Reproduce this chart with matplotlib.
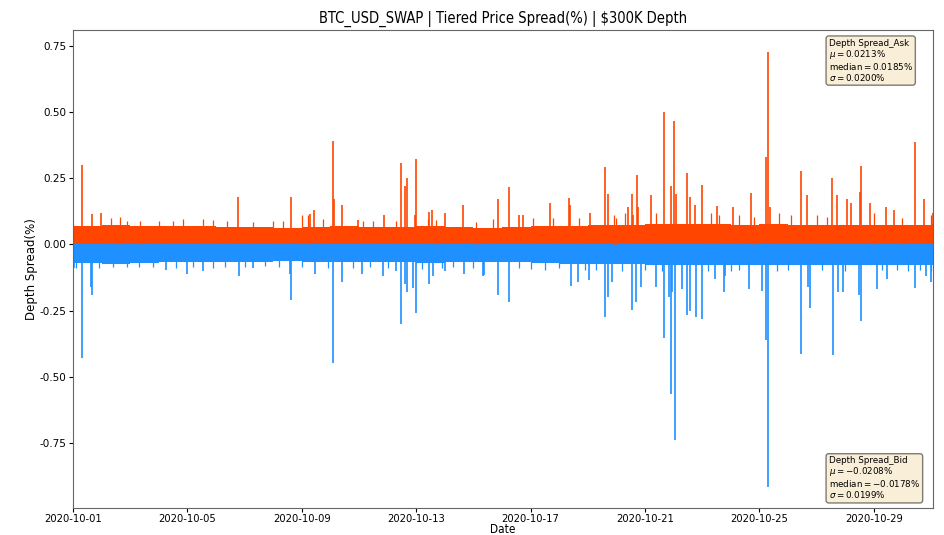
import numpy as np
import pandas as pd
import matplotlib
matplotlib.use('Agg')
from matplotlib import pyplot as plt
import matplotlib.dates as mdates

START = '2020-10-01'
END_DAY = 30.07

# typical level of the dense band, one value per day (day 0 = 2020-10-01)
ask_band = [0.070, 0.072, 0.070, 0.068, 0.068, 0.066, 0.065, 0.064, 0.066, 0.068, 0.067,
            0.066, 0.068, 0.066, 0.062, 0.066, 0.068, 0.070, 0.072, 0.074, 0.076, 0.078,
            0.076, 0.074, 0.076, 0.074, 0.075, 0.074, 0.074, 0.075, 0.076]
bid_band = [-0.070, -0.072, -0.070, -0.068, -0.068, -0.066, -0.066, -0.064, -0.066, -0.068, -0.068,
            -0.068, -0.070, -0.068, -0.066, -0.068, -0.070, -0.072, -0.074, -0.074, -0.076, -0.078,
            -0.078, -0.076, -0.076, -0.076, -0.076, -0.076, -0.076, -0.077, -0.078]

# small bumps on top of the band
ask_bump_day = [0.0, 1.32, 1.64, 1.9, 2.34, 3.0, 3.5, 3.86, 4.56, 4.9, 5.37, 6.3, 7.0, 7.35,
                8.0, 8.23, 8.75, 10.15, 10.5, 11.3, 12.4, 12.7, 14.1, 14.7, 16.1, 16.8, 17.7,
                18.9, 19.3, 19.0, 20.4, 22.3, 22.6, 23.3, 23.8, 24.7, 25.1, 26.0, 26.35, 28.0,
                29.0, 30.0]
ask_bump_val = [0.082, 0.100, 0.105, 0.090, 0.090, 0.090, 0.088, 0.095, 0.098, 0.092, 0.088,
                0.085, 0.090, 0.090, 0.110, 0.112, 0.095, 0.090, 0.090, 0.088, 0.095, 0.092,
                0.085, 0.095, 0.100, 0.100, 0.100, 0.110, 0.120, 0.100, 0.120, 0.120, 0.110,
                0.110, 0.105, 0.120, 0.110, 0.110, 0.105, 0.120, 0.100, 0.110]
bid_bump_day = [0.1, 0.9, 1.4, 1.9, 2.3, 2.8, 3.6, 4.2, 4.9, 5.3, 6.0, 6.7, 7.2, 8.0, 8.9,
                9.8, 10.4, 11.0, 12.2, 12.9, 13.3, 14.0, 15.6, 16.0, 16.5, 17.0, 17.9, 18.3,
                19.2, 20.0, 20.6, 22.2, 23.0, 23.3, 24.6, 25.0, 26.2, 27.0, 28.3, 28.8, 29.2,
                29.6, 30.0]
bid_bump_val = [-0.090, -0.088, -0.085, -0.086, -0.084, -0.085, -0.090, -0.086, -0.088, -0.084,
                -0.086, -0.083, -0.085, -0.086, -0.088, -0.090, -0.086, -0.088, -0.092, -0.090,
                -0.086, -0.088, -0.090, -0.092, -0.095, -0.090, -0.095, -0.098, -0.100, -0.096,
                -0.100, -0.102, -0.100, -0.098, -0.100, -0.096, -0.098, -0.100, -0.096, -0.098,
                -0.100, -0.098, -0.102]

# spikes
ask_spike_day = [0.30, 0.65, 0.98, 5.78, 7.61, 8.30, 8.44, 9.09, 9.12, 9.40, 9.97, 10.87, 11.47,
                 11.61, 11.67, 11.95, 12.0, 12.45, 12.57, 13.0, 13.62, 14.87, 15.24, 15.6, 15.74,
                 16.68, 17.34, 17.38, 18.08, 18.60, 18.72, 19.42, 19.53, 19.58, 19.72, 19.77,
                 20.2, 20.66, 20.91, 21.03, 21.1, 21.46, 21.57, 21.75, 21.98, 22.52, 23.08, 23.72,
                 24.22, 24.30, 24.38, 25.44, 25.67, 26.55, 26.73, 27.05, 27.2, 27.52, 27.55,
                 27.85, 28.43, 28.7, 29.44, 29.77, 30.06]
ask_spike_val = [0.300, 0.114, 0.120, 0.178, 0.178, 0.115, 0.130, 0.390, 0.170, 0.148, 0.094,
                 0.110, 0.308, 0.220, 0.251, 0.113, 0.324, 0.123, 0.132, 0.120, 0.150, 0.173,
                 0.217, 0.113, 0.110, 0.157, 0.176, 0.150, 0.120, 0.293, 0.192, 0.142, 0.191,
                 0.113, 0.261, 0.140, 0.186, 0.502, 0.220, 0.465, 0.190, 0.270, 0.180, 0.150,
                 0.226, 0.147, 0.140, 0.195, 0.329, 0.728, 0.140, 0.276, 0.185, 0.251, 0.186,
                 0.173, 0.157, 0.200, 0.298, 0.157, 0.140, 0.130, 0.386, 0.170, 0.120]
bid_spike_day = [0.05, 0.30, 0.62, 0.67, 3.27, 4.0, 4.55, 5.8, 6.3, 7.6, 7.61, 8.46, 9.08, 9.4,
                 10.09, 10.83, 11.31, 11.47, 11.6, 11.67, 11.9, 12.0, 12.45, 12.6, 13.0, 13.67,
                 14.34, 14.38, 14.87, 15.24, 17.40, 17.66, 18.05, 18.6, 18.69, 18.86, 19.53,
                 19.70, 19.87, 20.37, 20.66, 20.84, 20.9, 20.96, 21.04, 21.3, 21.46, 21.57, 21.80,
                 21.98, 22.45, 22.76, 22.8, 23.65, 24.08, 24.22, 24.31, 25.44, 25.70, 25.77,
                 26.56, 26.76, 26.93, 27.50, 27.55, 28.1, 28.47, 29.44, 29.83, 29.99]
bid_spike_val = [-0.090, -0.427, -0.160, -0.190, -0.095, -0.110, -0.100, -0.120, -0.090, -0.110,
                 -0.210, -0.110, -0.447, -0.140, -0.110, -0.120, -0.100, -0.300, -0.150, -0.180,
                 -0.165, -0.260, -0.150, -0.120, -0.100, -0.110, -0.120, -0.115, -0.190, -0.218,
                 -0.155, -0.140, -0.135, -0.273, -0.200, -0.140, -0.249, -0.218, -0.160, -0.160,
                 -0.352, -0.200, -0.563, -0.180, -0.738, -0.170, -0.267, -0.250, -0.273, -0.280,
                 -0.130, -0.180, -0.120, -0.170, -0.175, -0.362, -0.914, -0.412, -0.160, -0.239,
                 -0.417, -0.180, -0.180, -0.190, -0.290, -0.170, -0.130, -0.165, -0.120, -0.140]

ask_stats = (0.0213, 0.0185, 0.0200)
bid_stats = (-0.0208, -0.0178, 0.0199)

ASK_COLOR = 'orangered'
BID_COLOR = 'dodgerblue'


def to_dates(days):
    return pd.Timestamp(START) + pd.to_timedelta(np.asarray(days, dtype=float), unit='D')


fig = plt.figure(figsize=(9.45, 5.35), dpi=100)
ax = fig.add_axes([0.0772, 0.0505, 0.9101, 0.8935])

band_x = to_dates(list(range(len(ask_band))) + [END_DAY])
ax.fill_between(band_x, 0, ask_band + [ask_band[-1]], step='post', color=ASK_COLOR, lw=0)
ax.fill_between(band_x, 0, bid_band + [bid_band[-1]], step='post', color=BID_COLOR, lw=0)

ax.vlines(to_dates(ask_bump_day), 0, ask_bump_val, colors=ASK_COLOR, lw=0.9)
ax.vlines(to_dates(bid_bump_day), 0, bid_bump_val, colors=BID_COLOR, lw=0.9)
ax.vlines(to_dates(ask_spike_day), 0, ask_spike_val, colors=ASK_COLOR, lw=1.2)
ax.vlines(to_dates(bid_spike_day), 0, bid_spike_val, colors=BID_COLOR, lw=1.2)

ax.set_xlim(to_dates([0, END_DAY]))
ax.set_ylim(-0.995, 0.81)
ax.set_yticks([-0.75, -0.5, -0.25, 0.0, 0.25, 0.5, 0.75])
ax.yaxis.set_major_formatter(plt.FormatStrFormatter('%.2f'))
ax.tick_params(axis='y', labelsize=7.5, length=3, pad=2)
ax.tick_params(axis='x', labelsize=8, length=3, pad=1.5)
ax.xaxis.set_major_locator(mdates.DayLocator(bymonthday=range(1, 32, 4)))
ax.xaxis.set_major_formatter(mdates.DateFormatter('%Y-%m-%d'))
for lab in ax.get_xticklabels():
    lab.set_fontstretch('condensed')

for sp in ax.spines.values():
    sp.set_color('#666666')

ax.set_title('BTC_USD_SWAP | Tiered Price Spread(%) | $300K Depth', fontsize=10.5,
             fontstretch='condensed', pad=5)
ax.set_xlabel('Date', fontsize=8.5, fontstretch='condensed', va='center')
ax.xaxis.set_label_coords(0.5, -0.044)
ax.set_ylabel('Depth Spread(%)', fontsize=8.5, labelpad=1)

props = dict(boxstyle='round', facecolor='wheat', alpha=0.5)
ask_txt = '\n'.join(('Depth Spread_Ask',
                     r'$\mu=%.4f$%%' % ask_stats[0],
                     r'$\mathrm{median}=%.4f$%%' % ask_stats[1],
                     r'$\sigma=%.4f$%%' % ask_stats[2]))
bid_txt = '\n'.join(('Depth Spread_Bid',
                     r'$\mu=%.4f$%%' % bid_stats[0],
                     r'$\mathrm{median}=%.4f$%%' % bid_stats[1],
                     r'$\sigma=%.4f$%%' % bid_stats[2]))
ax.text(0.8787, 0.982, ask_txt, transform=ax.transAxes, fontsize=6.3, va='top', ha='left',
        linespacing=1.0, bbox=props)
ax.text(0.8787, 0.016, bid_txt, transform=ax.transAxes, fontsize=6.3, va='bottom', ha='left',
        linespacing=1.0, bbox=props)

fig.savefig('out.png', dpi=100)
plt.close(fig)
